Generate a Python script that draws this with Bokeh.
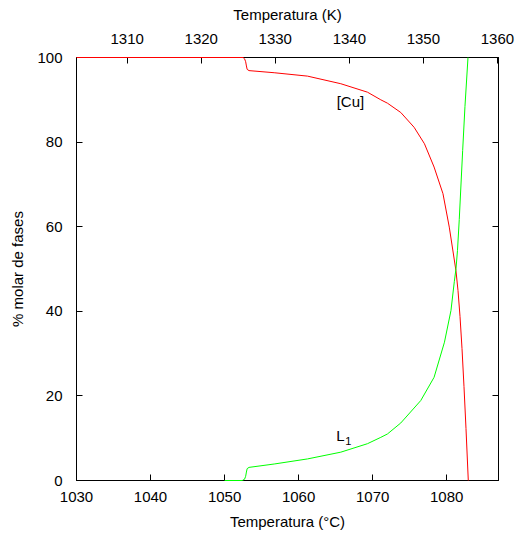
from bokeh.plotting import figure
from bokeh.models import LinearAxis, Range1d, FixedTicker, Label
from bokeh.embed import file_html
from bokeh.resources import INLINE

FONT = "Liberation Sans"

# [Cu] phase (mol %) vs temperature (°C)
temp_cu = [1030, 1052.5, 1052.7, 1052.85, 1052.95, 1053.05, 1053.3, 1056.7, 1061.2,
           1065.7, 1069.3, 1071.1, 1072.0, 1073.8, 1075.6, 1077.0, 1078.3, 1079.5,
           1080.35, 1081.255, 1081.53, 1081.80, 1082.07, 1082.34, 1082.61, 1082.92]
pct_cu = [100, 100, 99.7, 99.0, 98.0, 97.2, 96.9, 96.4, 95.6,
          93.8, 91.8, 90.0, 89.2, 87.0, 83.5, 79.6, 74.1, 67.8,
          59.9, 49.6, 44.9, 38.8, 31.2, 22.2, 12.3, 0]

# L1 liquid phase (mol %) vs temperature (°C)
temp_l1 = [1050, 1052.4, 1052.7, 1052.85, 1052.95, 1053.05, 1053.3, 1056.7, 1061.2,
           1065.7, 1069.3, 1071.1, 1072.0, 1073.8, 1076.5, 1078.3, 1079.7, 1080.58,
           1081.03, 1081.26, 1081.46, 1081.70, 1082.16, 1082.47, 1082.88]
pct_l1 = [0, 0, 0.3, 1.0, 2.0, 2.8, 3.1, 3.9, 5.1,
          6.7, 8.7, 10.2, 11.0, 13.6, 18.9, 24.4, 32.7, 40.2,
          47.0, 50.1, 54.4, 61.7, 78.0, 88.4, 100]

x_ticks_c = [1030, 1040, 1050, 1060, 1070, 1080]
x_ticks_k = [1310, 1320, 1330, 1340, 1350, 1360]
y_ticks = [0, 20, 40, 60, 80, 100]

x_min, x_max = 1030, 1087
kelvin_offset = 273.15

p = figure(width=516, height=535, output_backend="svg", toolbar_location=None,
           x_range=Range1d(x_min, x_max), y_range=Range1d(0, 100),
           min_border_left=76, min_border_right=18, min_border_top=57, min_border_bottom=55)
p.extra_x_ranges = {"K": Range1d(x_min + kelvin_offset, x_max + kelvin_offset)}

r1 = p.line(temp_cu, pct_cu, line_color="#ff0000", line_width=1)
r2 = p.line(temp_l1, pct_l1, line_color="#00ff00", line_width=1)
r1.level = "overlay"
r2.level = "overlay"

p.grid.visible = False
p.outline_line_color = "black"
p.outline_line_width = 1
p.background_fill_color = "white"
p.border_fill_color = "white"

bottom = p.below[0]
left = p.left[0]

top = LinearAxis(x_range_name="K")
p.add_layout(top, "above")

right = LinearAxis()
p.add_layout(right, "right")

bottom.axis_label = "Temperatura (°C)"
bottom.ticker = FixedTicker(ticks=x_ticks_c)
top.axis_label = "Temperatura (K)"
top.ticker = FixedTicker(ticks=x_ticks_k)
left.axis_label = "% molar de fases"
left.ticker = FixedTicker(ticks=y_ticks)
right.ticker = FixedTicker(ticks=y_ticks)

for ax in [bottom, left, top, right]:
    ax.major_tick_in = 6
    ax.major_tick_out = 0
    ax.minor_tick_in = 0
    ax.minor_tick_out = 0
    ax.axis_line_color = "black"
    ax.major_tick_line_color = "black"
    ax.major_label_text_font = FONT
    ax.major_label_text_font_size = "15px"
    ax.major_label_text_color = "#000000"
    ax.axis_label_text_font = FONT
    ax.axis_label_text_font_size = "15px"
    ax.axis_label_text_font_style = "normal"
    ax.axis_label_text_color = "#000000"
    ax.major_label_standoff = 6
    ax.axis_label_standoff = 8

right.major_label_text_color = None
right.axis_label = None
left.major_label_standoff = 14
left.axis_label_standoff = 8
bottom.major_label_standoff = 11
top.major_label_standoff = 14

p.add_layout(Label(x=1067.0, y=89.7, text="[Cu]", text_align="center", text_baseline="middle",
                   text_font=FONT, text_font_size="15px", text_color="black"))
p.add_layout(Label(x=1065.65, y=10.6, text="L", text_align="center", text_baseline="middle",
                   text_font=FONT, text_font_size="15px", text_color="black"))
p.add_layout(Label(x=1066.7, y=9.3, text="1", text_align="center", text_baseline="middle",
                   text_font=FONT, text_font_size="11px", text_color="black"))

open("out.html", "w").write(file_html(p, INLINE))
